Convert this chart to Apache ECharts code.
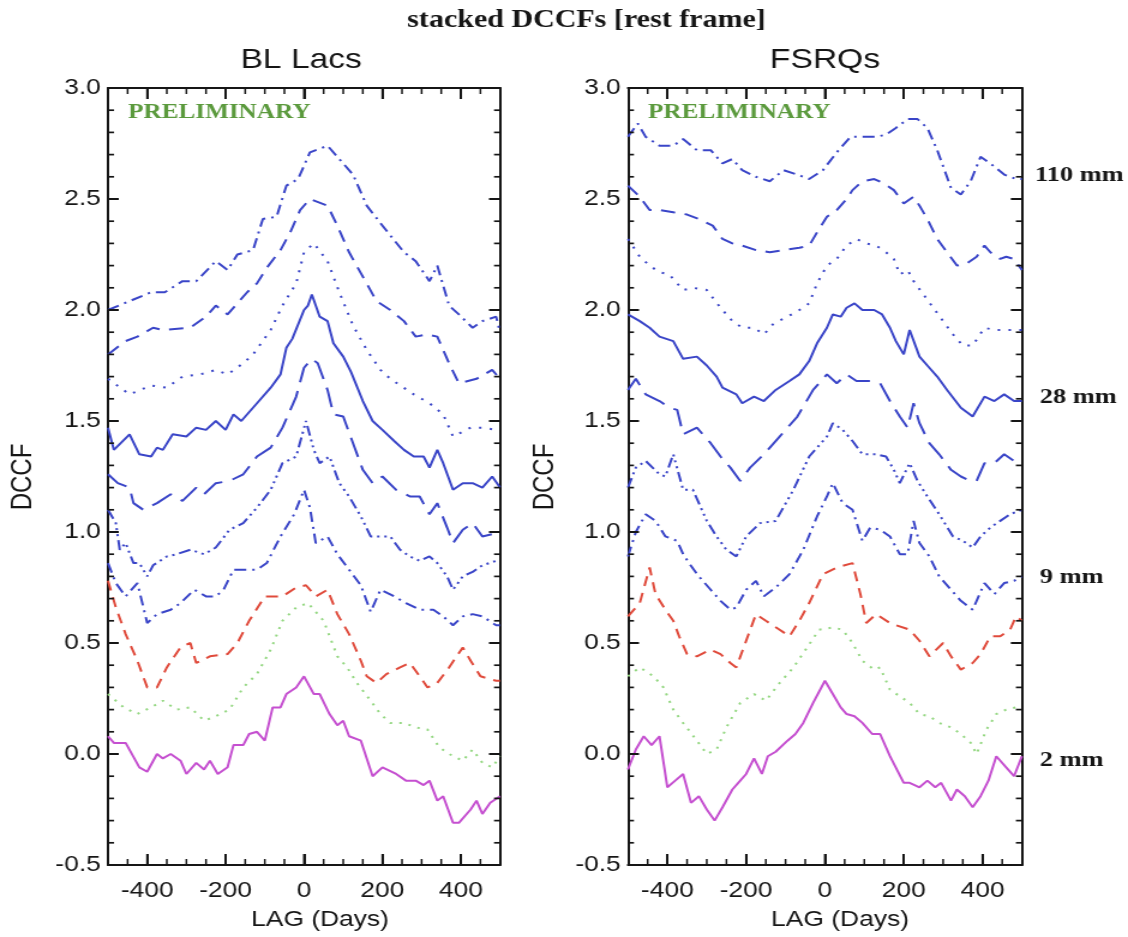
<!DOCTYPE html>
<html>
<head>
<meta charset="utf-8">
<script src="https://cdn.jsdelivr.net/npm/echarts@6/dist/echarts.min.js"></script>
<style>
  html, body { margin: 0; padding: 0; background: #fff; overflow: hidden; }
  #wrap { width: 1128px; height: 937px; overflow: hidden; }
  /* the figure is laid out on a 940px-wide canvas and widened to the page */
  #chart { width: 940px; height: 937px; transform: scaleX(1.2); transform-origin: 0 0; }
</style>
</head>
<body>
<div id="wrap"><div id="chart"></div></div>
<script>
// ---- axis ranges and tick values ---------------------------------------
const LAG_RANGE = [-500, 500];
const DCCF_RANGE = [-0.5, 3.0];
const LAG_MAJOR = [-400, -200, 0, 200, 400];
const LAG_MINOR = [-450, -350, -300, -250, -150, -100, -50, 50, 100, 150, 250, 300, 350, 450];
const DCCF_MAJOR = [-0.5, 0, 0.5, 1, 1.5, 2, 2.5, 3];
const DCCF_MINOR = [-0.4, -0.3, -0.2, -0.1, 0.1, 0.2, 0.3, 0.4, 0.6, 0.7, 0.8, 0.9,
  1.1, 1.2, 1.3, 1.4, 1.6, 1.7, 1.8, 1.9, 2.1, 2.2, 2.3, 2.4, 2.6, 2.7, 2.8, 2.9];

// ---- wavelengths (bottom to top) and the ones labelled on the right ----
const WAVELENGTHS = ['2 mm', '3 mm', '7 mm', '9 mm', '13 mm', '20 mm', '28 mm', '36 mm', '60 mm', '110 mm'];
const LABELLED = ['110 mm', '28 mm', '9 mm', '2 mm'];

// ---- BL Lacs: stacked DCCF, [lag (days), DCCF] ------------------------
const bl2 = [[-500,0.08],[-485,0.05],[-455,0.05],[-420,-0.06],[-400,-0.08],[-375,0.0],[-360,-0.02],[-340,0.0],[-315,-0.03],[-300,-0.09],[-275,-0.04],[-255,-0.07],[-240,-0.03],[-220,-0.09],[-195,-0.06],[-180,0.04],[-155,0.04],[-140,0.09],[-120,0.10],[-100,0.06],[-80,0.21],[-60,0.21],[-45,0.27],[-20,0.30],[0,0.35],[25,0.27],[40,0.27],[65,0.18],[85,0.13],[100,0.15],[115,0.08],[145,0.06],[175,-0.10],[200,-0.06],[235,-0.09],[260,-0.12],[285,-0.12],[305,-0.14],[320,-0.12],[340,-0.21],[355,-0.19],[380,-0.31],[395,-0.31],[425,-0.25],[440,-0.21],[455,-0.27],[475,-0.22],[500,-0.19]];
const bl3 = [[-500,0.27],[-460,0.21],[-425,0.18],[-390,0.21],[-360,0.24],[-325,0.20],[-290,0.21],[-255,0.15],[-225,0.17],[-190,0.20],[-155,0.30],[-120,0.36],[-85,0.47],[-55,0.60],[-20,0.66],[10,0.68],[50,0.60],[85,0.44],[110,0.39],[135,0.32],[170,0.24],[195,0.18],[220,0.14],[255,0.14],[285,0.12],[315,0.11],[345,0.03],[370,0.0],[405,-0.03],[430,0.02],[455,-0.04],[480,-0.06],[500,-0.01]];
const bl7 = [[-500,0.78],[-480,0.66],[-455,0.54],[-425,0.42],[-400,0.30],[-375,0.30],[-350,0.39],[-315,0.48],[-290,0.50],[-275,0.41],[-240,0.44],[-195,0.45],[-170,0.50],[-140,0.60],[-100,0.71],[-55,0.71],[-20,0.75],[5,0.76],[30,0.71],[60,0.74],[85,0.63],[115,0.54],[145,0.42],[160,0.35],[185,0.32],[210,0.36],[245,0.39],[270,0.41],[295,0.35],[315,0.30],[340,0.32],[370,0.39],[405,0.48],[425,0.42],[450,0.35],[490,0.33],[500,0.33]];
const bl9 = [[-500,0.86],[-480,0.77],[-455,0.71],[-425,0.77],[-400,0.59],[-375,0.63],[-340,0.65],[-315,0.68],[-280,0.74],[-250,0.71],[-225,0.71],[-205,0.74],[-180,0.83],[-155,0.83],[-120,0.83],[-95,0.86],[-60,0.98],[-25,1.08],[0,1.19],[15,1.11],[30,0.95],[60,0.98],[85,0.90],[115,0.83],[145,0.76],[170,0.64],[195,0.74],[230,0.71],[260,0.68],[295,0.65],[330,0.65],[355,0.62],[380,0.58],[405,0.62],[430,0.63],[455,0.62],[490,0.58],[500,0.58]];
const bl13 = [[-500,1.10],[-480,1.04],[-470,0.92],[-455,0.95],[-435,0.86],[-420,0.86],[-400,0.80],[-385,0.85],[-350,0.89],[-325,0.90],[-290,0.92],[-255,0.90],[-225,0.93],[-190,1.01],[-155,1.04],[-120,1.11],[-85,1.19],[-55,1.31],[-20,1.34],[5,1.50],[25,1.37],[40,1.31],[65,1.34],[90,1.22],[115,1.16],[145,1.07],[170,0.98],[195,0.98],[220,0.98],[245,0.92],[270,0.89],[295,0.87],[320,0.89],[340,0.86],[365,0.80],[380,0.74],[405,0.80],[430,0.82],[455,0.85],[490,0.87],[500,0.87]];
const bl20 = [[-500,1.26],[-475,1.22],[-445,1.20],[-435,1.13],[-410,1.10],[-375,1.13],[-340,1.17],[-310,1.14],[-275,1.20],[-255,1.17],[-225,1.22],[-190,1.23],[-155,1.26],[-120,1.34],[-85,1.38],[-55,1.47],[-20,1.61],[0,1.74],[20,1.78],[35,1.76],[60,1.64],[75,1.53],[100,1.52],[125,1.40],[150,1.28],[175,1.22],[200,1.25],[235,1.19],[270,1.16],[295,1.16],[320,1.08],[340,1.13],[365,1.02],[380,0.95],[405,1.01],[430,1.04],[455,0.98],[480,0.99],[500,1.01]];
const bl28 = [[-500,1.47],[-485,1.37],[-445,1.44],[-420,1.35],[-390,1.34],[-375,1.38],[-360,1.37],[-335,1.44],[-300,1.43],[-275,1.47],[-250,1.46],[-225,1.50],[-200,1.46],[-180,1.53],[-160,1.50],[-120,1.58],[-85,1.65],[-60,1.71],[-45,1.83],[-30,1.87],[0,2.0],[10,2.02],[20,2.07],[40,1.97],[60,1.95],[75,1.85],[100,1.79],[120,1.72],[150,1.59],[175,1.50],[200,1.46],[230,1.41],[255,1.37],[280,1.34],[305,1.34],[320,1.29],[340,1.37],[355,1.31],[380,1.19],[405,1.22],[430,1.22],[455,1.20],[480,1.25],[500,1.20]];
const bl36 = [[-500,1.69],[-445,1.62],[-390,1.66],[-350,1.65],[-310,1.70],[-265,1.71],[-225,1.73],[-195,1.71],[-155,1.76],[-130,1.80],[-85,1.91],[-55,2.02],[-20,2.12],[0,2.26],[25,2.30],[60,2.22],[90,2.08],[125,1.93],[160,1.82],[195,1.73],[220,1.69],[280,1.62],[320,1.58],[355,1.53],[380,1.43],[425,1.47],[455,1.47],[490,1.46],[500,1.46]];
const bl60 = [[-500,1.80],[-455,1.86],[-425,1.88],[-385,1.92],[-360,1.91],[-290,1.92],[-250,1.97],[-225,2.02],[-195,1.98],[-145,2.08],[-120,2.12],[-95,2.19],[-60,2.27],[-35,2.35],[-10,2.45],[15,2.50],[60,2.47],[85,2.38],[115,2.26],[150,2.15],[185,2.04],[220,2.0],[255,1.95],[285,1.88],[315,1.89],[340,1.88],[370,1.76],[395,1.67],[440,1.69],[480,1.73],[500,1.69]];
const bl110 = [[-500,2.0],[-445,2.04],[-390,2.08],[-355,2.08],[-310,2.13],[-275,2.13],[-225,2.22],[-195,2.18],[-170,2.25],[-130,2.27],[-105,2.41],[-70,2.42],[-45,2.56],[-15,2.59],[15,2.71],[60,2.74],[100,2.66],[125,2.61],[160,2.47],[200,2.38],[255,2.26],[285,2.22],[320,2.13],[340,2.20],[370,2.02],[395,1.98],[430,1.92],[455,1.95],[490,1.97],[500,1.90]];

// ---- FSRQs: stacked DCCF, [lag (days), DCCF] --------------------------
const fs2 = [[-500,-0.07],[-480,0.02],[-460,0.08],[-440,0.04],[-420,0.08],[-400,-0.15],[-380,-0.12],[-360,-0.09],[-340,-0.22],[-320,-0.19],[-300,-0.25],[-280,-0.30],[-260,-0.24],[-235,-0.16],[-220,-0.13],[-200,-0.09],[-180,-0.02],[-160,-0.09],[-145,-0.01],[-125,0.01],[-95,0.06],[-75,0.09],[-55,0.14],[-30,0.23],[0,0.33],[20,0.27],[40,0.21],[55,0.18],[75,0.17],[95,0.14],[120,0.09],[140,0.09],[165,-0.01],[200,-0.13],[215,-0.13],[240,-0.15],[260,-0.12],[280,-0.15],[295,-0.13],[320,-0.21],[335,-0.16],[355,-0.19],[375,-0.24],[395,-0.19],[415,-0.12],[435,-0.01],[460,-0.06],[480,-0.10],[500,-0.01]];
const fs3 = [[-500,0.35],[-470,0.39],[-435,0.35],[-410,0.30],[-385,0.20],[-360,0.14],[-325,0.06],[-300,0.0],[-275,0.02],[-250,0.12],[-215,0.23],[-180,0.27],[-150,0.24],[-115,0.32],[-80,0.39],[-45,0.48],[-15,0.56],[20,0.57],[45,0.56],[70,0.50],[95,0.42],[125,0.38],[140,0.39],[165,0.29],[190,0.26],[215,0.23],[240,0.18],[265,0.17],[290,0.14],[320,0.12],[345,0.09],[370,0.05],[385,0.0],[410,0.11],[435,0.18],[460,0.20],[485,0.21],[500,0.21]];
const fs7 = [[-500,0.62],[-470,0.68],[-445,0.84],[-430,0.72],[-405,0.65],[-385,0.60],[-370,0.53],[-350,0.45],[-325,0.44],[-290,0.47],[-265,0.45],[-240,0.41],[-225,0.39],[-200,0.51],[-175,0.63],[-150,0.60],[-115,0.56],[-90,0.53],[-65,0.60],[-40,0.68],[-5,0.81],[30,0.84],[70,0.86],[90,0.72],[105,0.59],[130,0.63],[165,0.59],[180,0.58],[215,0.56],[240,0.51],[265,0.44],[300,0.50],[320,0.44],[345,0.38],[375,0.41],[395,0.45],[420,0.53],[445,0.53],[470,0.56],[485,0.62],[500,0.60]];
const fs9 = [[-500,0.89],[-480,1.00],[-455,1.08],[-430,1.05],[-405,0.98],[-375,0.96],[-360,0.90],[-345,0.86],[-320,0.80],[-290,0.74],[-265,0.69],[-240,0.65],[-225,0.66],[-200,0.74],[-175,0.78],[-155,0.71],[-125,0.75],[-90,0.81],[-55,0.92],[-20,1.07],[5,1.16],[20,1.22],[45,1.13],[70,1.10],[95,0.96],[115,1.02],[140,1.01],[165,0.98],[190,0.90],[210,0.90],[225,1.05],[240,0.95],[265,0.89],[290,0.80],[320,0.74],[345,0.69],[375,0.65],[405,0.77],[430,0.72],[455,0.77],[480,0.78],[500,0.80]];
const fs13 = [[-500,1.20],[-480,1.29],[-455,1.32],[-420,1.26],[-405,1.25],[-385,1.35],[-360,1.19],[-335,1.19],[-300,1.05],[-275,0.98],[-250,0.92],[-225,0.89],[-200,0.98],[-165,1.04],[-125,1.05],[-80,1.19],[-40,1.34],[5,1.43],[20,1.49],[45,1.46],[70,1.41],[95,1.35],[130,1.35],[155,1.34],[175,1.28],[190,1.22],[215,1.31],[235,1.23],[260,1.16],[290,1.08],[325,0.98],[350,0.96],[375,0.93],[395,0.98],[420,1.02],[445,1.05],[470,1.08],[500,1.10]];
const fs20 = [[-500,1.64],[-480,1.69],[-455,1.62],[-420,1.59],[-395,1.56],[-375,1.55],[-360,1.44],[-325,1.47],[-290,1.40],[-265,1.34],[-240,1.29],[-215,1.23],[-190,1.29],[-155,1.35],[-115,1.43],[-70,1.52],[-30,1.64],[5,1.71],[30,1.67],[55,1.71],[80,1.68],[115,1.68],[140,1.67],[165,1.59],[190,1.52],[210,1.47],[225,1.58],[240,1.49],[265,1.40],[290,1.35],[320,1.28],[345,1.25],[370,1.23],[385,1.23],[405,1.31],[430,1.31],[455,1.35],[480,1.32],[500,1.31]];
const fs28 = [[-500,1.98],[-470,1.95],[-445,1.92],[-420,1.88],[-385,1.86],[-360,1.78],[-325,1.79],[-300,1.75],[-275,1.70],[-260,1.65],[-225,1.62],[-210,1.58],[-180,1.61],[-155,1.59],[-125,1.64],[-90,1.68],[-65,1.71],[-40,1.77],[-20,1.85],[5,1.92],[20,1.98],[40,1.97],[55,2.01],[75,2.03],[95,2.00],[125,2.00],[145,1.98],[165,1.92],[180,1.86],[200,1.80],[215,1.91],[240,1.79],[265,1.74],[285,1.70],[310,1.64],[345,1.56],[375,1.52],[405,1.61],[430,1.59],[455,1.62],[480,1.59],[500,1.59]];
const fs36 = [[-500,2.32],[-470,2.24],[-445,2.20],[-420,2.17],[-395,2.16],[-360,2.09],[-335,2.10],[-300,2.09],[-265,2.01],[-235,1.95],[-210,1.92],[-180,1.92],[-155,1.89],[-130,1.94],[-95,1.97],[-65,2.00],[-40,2.03],[-20,2.12],[5,2.20],[30,2.23],[55,2.29],[80,2.32],[105,2.30],[130,2.29],[155,2.26],[175,2.23],[190,2.16],[210,2.18],[225,2.13],[250,2.07],[275,2.01],[300,1.95],[325,1.89],[350,1.84],[375,1.84],[405,1.92],[430,1.91],[460,1.91],[500,1.91]];
const fs60 = [[-500,2.56],[-470,2.51],[-445,2.45],[-420,2.45],[-385,2.44],[-350,2.43],[-320,2.41],[-285,2.38],[-260,2.32],[-235,2.30],[-210,2.29],[-175,2.27],[-140,2.26],[-105,2.27],[-65,2.28],[-40,2.29],[-20,2.35],[5,2.42],[30,2.45],[55,2.50],[70,2.54],[95,2.58],[125,2.59],[150,2.57],[175,2.54],[200,2.48],[225,2.51],[240,2.47],[260,2.41],[285,2.32],[310,2.26],[335,2.20],[360,2.21],[385,2.24],[405,2.29],[420,2.26],[445,2.23],[460,2.24],[480,2.23],[500,2.18]];
const fs110 = [[-500,2.78],[-475,2.84],[-455,2.78],[-420,2.74],[-385,2.74],[-360,2.77],[-325,2.72],[-290,2.72],[-260,2.66],[-235,2.68],[-210,2.63],[-175,2.60],[-140,2.58],[-105,2.63],[-70,2.61],[-40,2.59],[-5,2.63],[30,2.71],[65,2.78],[95,2.78],[130,2.78],[155,2.79],[180,2.82],[210,2.86],[235,2.86],[260,2.82],[285,2.72],[320,2.55],[345,2.52],[370,2.58],[395,2.69],[420,2.66],[455,2.61],[485,2.59],[500,2.59]];

const BL_LACS = [bl2, bl3, bl7, bl9, bl13, bl20, bl28, bl36, bl60, bl110];
const FSRQS = [fs2, fs3, fs7, fs9, fs13, fs20, fs28, fs36, fs60, fs110];

// ---- styling -------------------------------------------------------------
const BLUE = '#3a45c8';
const INK = '#161616';
const SANS = 'Liberation Sans, Arial, sans-serif';
const SERIF = 'Liberation Serif, Times New Roman, serif';
// IDL-like line styles: solid, dotted, dashed, dash-dot, dash-dot-dot-dot, long dash
const LINE_STYLES = [
  { color: '#c54fd0', type: 'solid' },
  { color: '#93d780', type: [2, 6] },
  { color: '#e04a3b', type: [10, 7] },
  { color: BLUE, type: [10, 5, 2, 5] },
  { color: BLUE, type: [10, 4, 2, 4, 2, 4, 2, 4] },
  { color: BLUE, type: [20, 9] },
  { color: BLUE, type: 'solid' },
  { color: BLUE, type: [2, 7] },
  { color: BLUE, type: [12, 8] },
  { color: BLUE, type: [10, 5, 2, 5] }
];

const PLOT_TOP = 88, PLOT_HEIGHT = 777;
const PANELS = [
  { name: 'BL Lacs', left: 90, width: 326.7, curves: BL_LACS },
  { name: 'FSRQs', left: 523.3, width: 328.3, curves: FSRQS }
];

const FRAME = { show: true, onZero: false, lineStyle: { color: INK, width: 2 } };
const majorTick = (vals, len) => ({ show: true, inside: true, length: len, customValues: vals,
  lineStyle: { color: INK, width: 2 } });

function lagAxes(g) {
  const base = { type: 'value', gridIndex: g, min: LAG_RANGE[0], max: LAG_RANGE[1],
    splitLine: { show: false }, axisLine: FRAME, axisTick: majorTick(LAG_MAJOR, 11) };
  return [
    Object.assign({}, base, { position: 'bottom',
      axisLabel: { show: true, customValues: LAG_MAJOR, margin: 15, fontSize: 22, fontFamily: SANS, color: INK } }),
    Object.assign({}, base, { position: 'top', axisLabel: { show: false } })
  ];
}

function dccfAxes(g) {
  const base = { type: 'value', gridIndex: g, min: DCCF_RANGE[0], max: DCCF_RANGE[1],
    splitLine: { show: false }, axisLine: FRAME, axisTick: majorTick(DCCF_MAJOR, 9) };
  return [
    Object.assign({}, base, { position: 'left',
      axisLabel: { show: true, customValues: DCCF_MAJOR, margin: 6, fontSize: 22, fontFamily: SANS, color: INK,
        formatter: v => Number(v).toFixed(1) } }),
    Object.assign({}, base, { position: 'right', axisLabel: { show: false } })
  ];
}

// inward tick marks: small bar symbols anchored on the frame, pushed inward
function tickBars(g, points, size, offset) {
  return {
    type: 'scatter', xAxisIndex: g * 2, yAxisIndex: g * 2, data: points,
    symbol: 'rect', symbolSize: size, symbolOffset: offset,
    itemStyle: { color: INK, opacity: 1 }, silent: true, clip: false, z: 6,
    emphasis: { disabled: true }, tooltip: { show: false }
  };
}

const grid = [], xAxis = [], yAxis = [], series = [];
PANELS.forEach((p, g) => {
  grid.push({ left: p.left, top: PLOT_TOP, width: p.width, height: PLOT_HEIGHT, containLabel: false });
  xAxis.push(...lagAxes(g));
  yAxis.push(...dccfAxes(g));
  p.curves.forEach((data, k) => {
    series.push({
      name: p.name + ' ' + WAVELENGTHS[k],
      type: 'line',
      xAxisIndex: g * 2,
      yAxisIndex: g * 2,
      data: data,
      showSymbol: false,
      symbol: 'none',
      smooth: false,
      clip: true,
      z: 3,
      lineStyle: { color: LINE_STYLES[k].color, type: LINE_STYLES[k].type, width: 2 }
    });
  });
  const bottom = vals => vals.map(v => [v, DCCF_RANGE[0]]);
  const top = vals => vals.map(v => [v, DCCF_RANGE[1]]);
  const left = vals => vals.map(v => [LAG_RANGE[0], v]);
  const right = vals => vals.map(v => [LAG_RANGE[1], v]);
  series.push(tickBars(g, bottom(LAG_MAJOR), [1.7, 11], [0, -5.5]));
  series.push(tickBars(g, top(LAG_MAJOR), [1.7, 11], [0, 5.5]));
  series.push(tickBars(g, bottom(LAG_MINOR), [1.5, 6], [0, -3]));
  series.push(tickBars(g, top(LAG_MINOR), [1.5, 6], [0, 3]));
  series.push(tickBars(g, left(DCCF_MAJOR), [9, 2], [4.5, 0]));
  series.push(tickBars(g, right(DCCF_MAJOR), [9, 2], [-4.5, 0]));
  series.push(tickBars(g, left(DCCF_MINOR), [5, 1.7], [2.5, 0]));
  series.push(tickBars(g, right(DCCF_MINOR), [5, 1.7], [-2.5, 0]));
});

function text(x, y, str, font, extra) {
  return Object.assign({
    type: 'text', x: x, y: y, silent: true,
    style: Object.assign({ text: str, fill: INK, align: 'center', verticalAlign: 'middle' }, font)
  }, extra || {});
}

const labels = [
  text(488.75, 21, 'stacked DCCFs [rest frame]', { font: 'bold 25px ' + SERIF }),
  text(251, 60, 'BL Lacs', { font: '28px ' + SANS }),
  text(687.5, 60, 'FSRQs', { font: '28px ' + SANS }),
  text(19.5, 477, 'DCCF', { font: '24px ' + SANS }, { rotation: Math.PI / 2 }),
  text(454, 477, 'DCCF', { font: '24px ' + SANS }, { rotation: Math.PI / 2 }),
  text(266.7, 920, 'LAG (Days)', { font: '22px ' + SANS }),
  text(700, 920, 'LAG (Days)', { font: '22px ' + SANS }),
  text(106.7, 113, 'PRELIMINARY', { font: 'bold 21px ' + SERIF, fill: '#5b9a3d', align: 'left' }),
  text(540, 113, 'PRELIMINARY', { font: 'bold 21px ' + SERIF, fill: '#5b9a3d', align: 'left' })
];
const LABEL_Y = { '110 mm': 175, '28 mm': 397, '9 mm': 577, '2 mm': 760 };
LABELLED.forEach(w => {
  labels.push(text(w === '110 mm' ? 862.5 : 866.5, LABEL_Y[w], w,
    { font: 'bold 22px ' + SERIF, align: 'left' }));
});

const chart = echarts.init(document.getElementById('chart'), null, { renderer: 'canvas' });
chart.setOption({
  animation: false,
  backgroundColor: '#fff',
  grid: grid,
  xAxis: xAxis,
  yAxis: yAxis,
  series: series,
  graphic: { elements: labels }
});
</script>
</body>
</html>
